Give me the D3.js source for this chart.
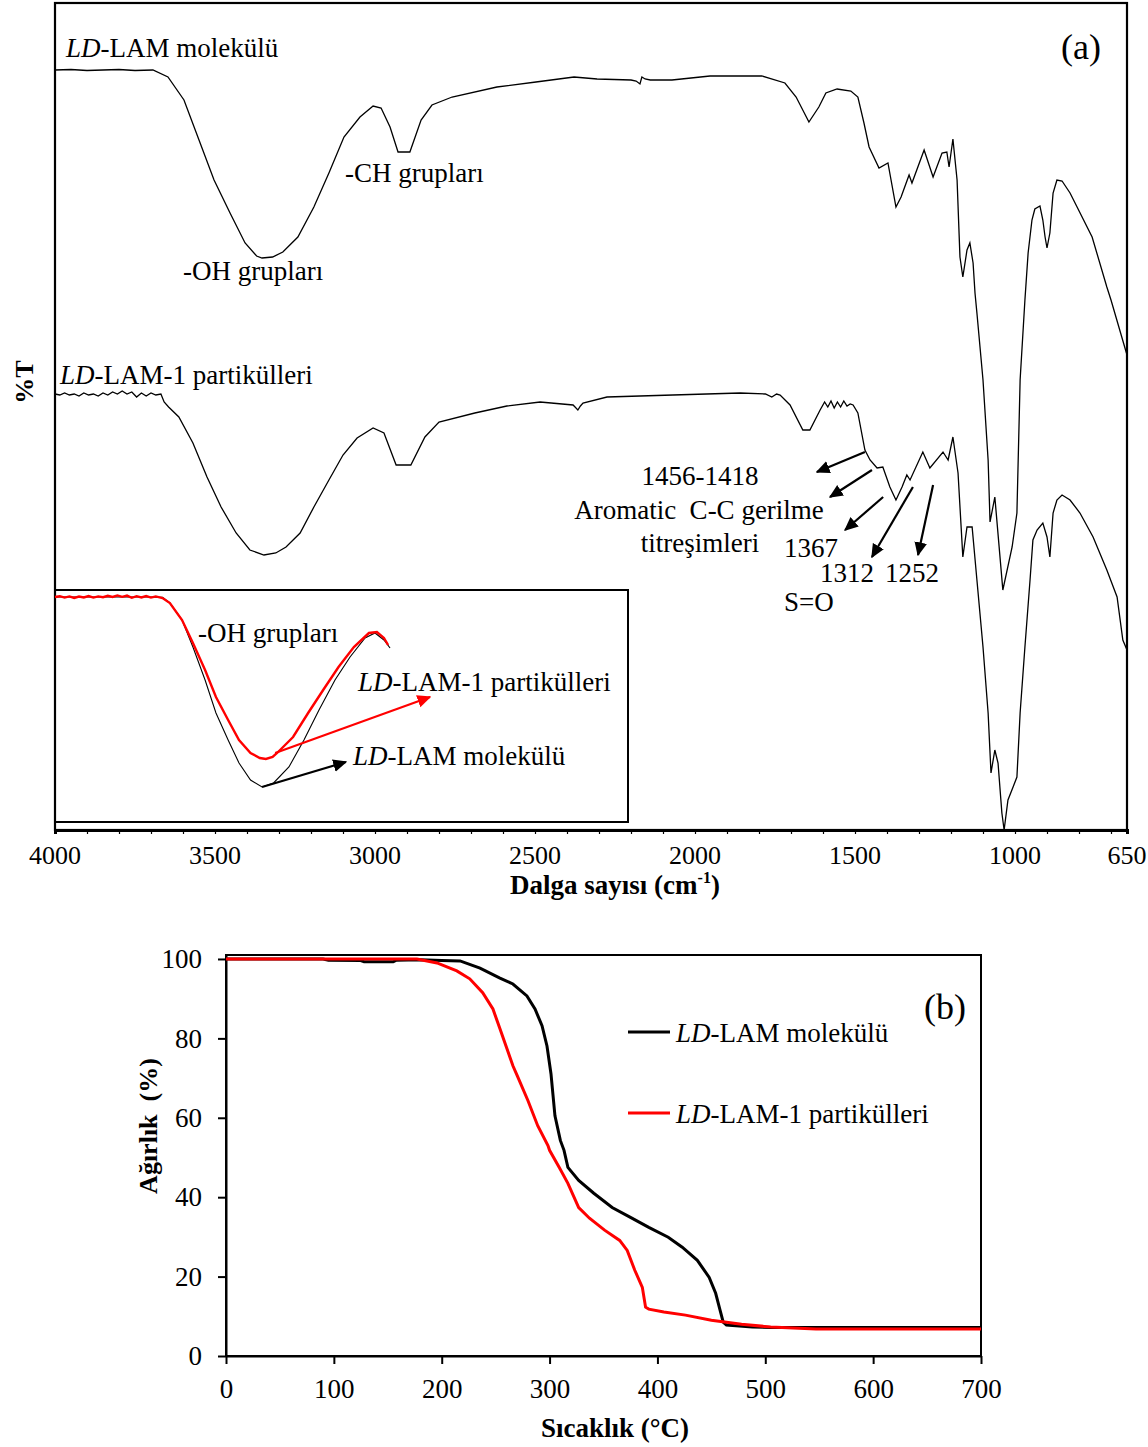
<!DOCTYPE html>
<html><head><meta charset="utf-8">
<script src="https://cdn.jsdelivr.net/npm/d3@7"></script>
<style>
body{margin:0;background:#fff}
svg{display:block}
text{font-family:"Liberation Serif","Times New Roman",serif;fill:#000}
</style>
</head><body>
<svg id="chart" width="1148" height="1447"></svg>
<script>
// ---------- DATA ----------
// FTIR (a): [wavenumber cm-1, %T (offset, arbitrary units)]
const ldlamSpectrum = [[4000,76.0],[3950,76.05],[3900,75.95],[3850,76.0],[3800,76.05],[3750,75.95],[3694,76.0],[3647,75.3],[3597,73.0],[3550,69.0],[3503,65.0],[3453,61.7],[3406,58.7],[3370,57.4],[3353,57.2],[3320,57.3],[3288,57.8],[3241,59.3],[3191,62.3],[3144,65.7],[3097,69.3],[3047,71.3],[3006,72.4],[2981,72.2],[2953,70.3],[2928,67.8],[2891,67.8],[2856,71.0],[2822,72.5],[2759,73.3],[2619,74.3],[2497,74.8],[2378,75.3],[2306,75.1],[2200,75.0],[2184,74.9],[2172,74.6],[2166,75.3],[2156,75.1],[2140,75.0],[2072,75.0],[1953,75.4],[1791,75.4],[1719,74.7],[1684,73.3],[1644,70.8],[1613,72.3],[1591,73.7],[1556,74.1],[1513,73.9],[1491,73.3],[1472,70.7],[1456,68.3],[1425,66.2],[1397,66.7],[1372,62.3],[1356,63.3],[1331,65.5],[1322,64.7],[1284,68.0],[1256,65.3],[1228,67.7],[1213,67.8],[1206,66.3],[1194,69.1],[1181,65.0],[1172,57.3],[1163,55.3],[1150,58.0],[1141,58.7],[1131,56.7],[1125,53.7],[1119,51.7],[1100,45.0],[1084,37.0],[1078,30.8],[1063,33.3],[1038,24.0],[1009,28.3],[994,31.7],[984,45.0],[969,53.0],[959,57.7],[947,61.0],[938,62.1],[922,62.4],[913,61.0],[906,59.3],[900,58.2],[891,59.7],[881,63.7],[869,65.0],[853,64.9],[828,63.7],[806,62.3],[759,59.3],[713,54.3],[700,53.0],[650,47.5]];
const ldlam1Spectrum = [[4000,43.6],[3985,43.5],[3970,43.7],[3955,43.5],[3940,43.6],[3925,43.4],[3910,43.7],[3895,43.5],[3880,43.6],[3865,43.4],[3850,43.7],[3835,43.5],[3820,43.8],[3805,43.6],[3790,43.9],[3775,43.6],[3760,43.8],[3745,43.3],[3730,43.7],[3715,43.4],[3700,43.7],[3685,43.5],[3669,43.6],[3659,42.8],[3645,42.3],[3613,41.3],[3569,38.7],[3525,35.3],[3481,32.3],[3434,29.7],[3391,28.0],[3347,27.5],[3310,27.7],[3278,28.3],[3234,29.7],[3191,32.3],[3144,35.0],[3100,37.5],[3056,39.2],[3006,40.2],[2972,39.7],[2934,36.5],[2888,36.5],[2844,39.3],[2800,40.8],[2688,41.7],[2588,42.4],[2484,42.8],[2381,42.5],[2366,42.0],[2358,42.4],[2350,42.7],[2275,43.3],[2069,43.5],[1859,43.7],[1780,43.6],[1760,43.3],[1745,43.6],[1734,43.5],[1703,42.5],[1663,40.0],[1641,40.0],[1609,42.0],[1595,42.8],[1585,42.3],[1575,42.9],[1565,42.2],[1555,42.8],[1545,42.3],[1535,42.9],[1525,42.4],[1515,42.6],[1506,42.5],[1491,41.7],[1469,38.0],[1453,37.0],[1431,36.2],[1413,36.3],[1391,34.3],[1372,33.0],[1353,34.3],[1338,35.5],[1328,35.0],[1288,37.8],[1266,36.2],[1225,37.8],[1209,37.0],[1194,39.3],[1178,35.7],[1163,27.3],[1150,30.3],[1134,30.3],[1119,25.0],[1100,18.3],[1084,11.7],[1075,5.7],[1063,8.0],[1053,6.7],[1041,1.7],[1034,0.0],[1022,3.0],[1006,4.3],[994,5.3],[984,11.7],[969,18.3],[953,25.0],[944,29.0],[931,30.0],[913,30.7],[900,29.3],[891,27.3],[881,31.7],[869,33.0],[853,33.5],[828,33.0],[797,31.7],[756,29.3],[713,26.0],[681,23.3],[663,19.0],[650,18.0]];
// Inset: OH band region, normalised %T
const insetLdlam1 = [[4000,112.5],[3985,112.9],[3970,112.2],[3955,112.8],[3940,112.0],[3925,112.7],[3910,112.3],[3895,113.0],[3880,112.2],[3865,112.8],[3850,112.4],[3835,113.1],[3820,112.5],[3805,113.3],[3790,112.6],[3775,113.2],[3760,112.1],[3745,112.9],[3730,112.3],[3715,113.0],[3700,112.2],[3685,112.8],[3664,112.0],[3641,109.5],[3603,101],[3569,89.5],[3531,76],[3497,62.5],[3459,51],[3425,41],[3389,34.5],[3360,32],[3341,31.5],[3320,32.5],[3306,34.5],[3256,42.5],[3209,54.5],[3162,66],[3114,77.5],[3066,87.5],[3019,94.5],[2994,95],[2972,92],[2959,88.5]];
const insetLdlam = [[4000,112.5],[3700,112.5],[3664,112.3],[3641,109.5],[3603,101],[3569,87.5],[3531,71],[3497,54.5],[3459,41],[3425,29.5],[3389,21],[3353,17.5],[3317,19.5],[3269,27.5],[3222,41],[3175,56],[3125,71],[3078,82.5],[3031,92],[3000,94.5],[2972,91],[2953,87]];
const ftirTickLabels = [4000,3500,3000,2500,2000,1500,1000,650];
// arrows: [fromWn, fromT, toWn, toT]
const ftirArrows = [[1469,37.8,1619,35.8],[1447,36.0,1578,33.3],[1412,33.3,1531,30.0],[1319,34.3,1447,27.3],[1256,34.5,1303,27.5]];
const insetArrows = [[3312,34.5,2828,62.5,"#ff0000"],[3353,17.5,3091,30,"#000000"]];

// TGA (b): [temperature °C, weight %]
const tgaLdlam = [[0,100],[90,100],[95,99.7],[125,99.6],[128,99.3],[155,99.3],[158,99.7],[180,99.8],[200,99.6],[217,99.5],[235.5,97.7],[254,95.2],[266,93.7],[279,90.7],[286.5,87.4],[293,83.2],[297.6,78.1],[301.3,71.1],[305,60.5],[310,54.3],[313.4,51.8],[317,47.5],[327,44.2],[341,41.0],[358,37.4],[375,34.9],[392,32.4],[410,29.9],[423,27.4],[437,24.1],[448,19.8],[454,15.8],[458,11.6],[461,8.5],[464,7.8],[488,7.3],[505,7.2],[700,7.2]];
const tgaLdlam1 = [[0,100],[177,100],[195.6,99.0],[214,97.0],[226,95.0],[238,91.5],[247.5,87.4],[254,82.4],[260.5,77.4],[266,73.1],[270,70.6],[280,64.3],[289,58],[298.5,53],[300,51.8],[309,47.5],[317,43.5],[327,37.4],[337,34.7],[351,31.7],[365,29.1],[372,26.6],[379,21.6],[386,17.3],[389,12.3],[392,11.8],[406,11.1],[426,10.3],[450,9.0],[478,8.0],[505,7.3],[547,6.8],[700,6.8]];
const tgaXTicks = [0,100,200,300,400,500,600,700];
const tgaYTicks = [0,20,40,60,80,100];

// ---------- DRAW ----------
const svg = d3.select("#chart");
const F = '"Liberation Serif","Times New Roman",serif';
const FS = 27;

const defs = svg.append("defs");
function marker(id, color){
  defs.append("marker").attr("id", id).attr("viewBox","0 0 10 10").attr("refX",9).attr("refY",5)
    .attr("markerWidth",14).attr("markerHeight",14).attr("markerUnits","userSpaceOnUse").attr("orient","auto")
    .append("path").attr("d","M0,0.5 L10,5 L0,9.5 Z").attr("fill", color);
}
marker("ah-black","#000"); marker("ah-red","#ff0000");

function richText(g, x, y, parts, size, anchor){
  const t = g.append("text").attr("x",x).attr("y",y).attr("font-size",size).attr("text-anchor",anchor||"start").attr("xml:space","preserve");
  parts.forEach(p=>{ const s=t.append("tspan").text(p[0]); if(p[1]) s.attr("font-style","italic"); });
  return t;
}

// ----- Panel (a) -----
const xA = d3.scaleLinear().domain([4000,650]).range([55,1127]);
const yA = d3.scaleLinear().domain([0,82.7]).range([830,3]);
const yIn = d3.scaleLinear().domain([0,116]).range([822,590]);
const gA = svg.append("g");

const lineA = d3.line().x(d=>xA(d[0])).y(d=>yA(d[1]));
gA.append("path").datum(ldlamSpectrum).attr("d",lineA).attr("fill","none").attr("stroke","#000").attr("stroke-width",1.3);
gA.append("path").datum(ldlam1Spectrum).attr("d",lineA).attr("fill","none").attr("stroke","#000").attr("stroke-width",1.3);

// frame
gA.append("rect").attr("x",55).attr("y",3).attr("width",1072).attr("height",827).attr("fill","none").attr("stroke","#000").attr("stroke-width",2.2);

// bottom axis with minor ticks every 100
const minorTicks = d3.range(4000, 649, -100).concat([650]);
const axA = gA.append("g").attr("transform","translate(0,830)")
  .call(d3.axisBottom(xA).tickValues(minorTicks).tickSize(4).tickFormat(""));
axA.select(".domain").attr("stroke-width",3);
axA.selectAll(".tick line").attr("stroke-width",1.2);
gA.append("g").selectAll("text").data(ftirTickLabels).join("text")
  .attr("x",d=>xA(d)).attr("y",864).attr("text-anchor","middle")
  .attr("font-size",26).text(d=>d);
// axis titles
const xt = gA.append("text").attr("x",615).attr("y",894).attr("text-anchor","middle").attr("font-size",27).attr("font-weight","bold");
xt.append("tspan").text("Dalga sayısı (cm");
xt.append("tspan").text("-1").attr("font-size",16).attr("dy",-11);
xt.append("tspan").text(")").attr("dy",11);
gA.append("text").attr("transform","translate(33,382) rotate(-90)").attr("text-anchor","middle").attr("font-size",26).attr("font-weight","bold").text("%T");

// labels
gA.append("text").attr("x",1101).attr("y",59).attr("text-anchor","end").attr("font-size",36).text("(a)");
richText(gA,66,57,[["LD",1],["-LAM molekülü"]],FS);
richText(gA,60,384,[["LD",1],["-LAM-1 partikülleri"]],FS);
gA.append("text").attr("x",345).attr("y",182).attr("font-size",FS).text("-CH grupları");
gA.append("text").attr("x",183).attr("y",280).attr("font-size",FS).text("-OH grupları");
gA.append("text").attr("x",700).attr("y",485).attr("text-anchor","middle").attr("font-size",FS).text("1456-1418");
gA.append("text").attr("x",699).attr("y",519).attr("text-anchor","middle").attr("font-size",FS).attr("xml:space","preserve").text("Aromatic  C-C gerilme");
gA.append("text").attr("x",700).attr("y",552).attr("text-anchor","middle").attr("font-size",FS).text("titreşimleri");
gA.append("text").attr("x",784).attr("y",557).attr("font-size",FS).text("1367");
gA.append("text").attr("x",820).attr("y",582).attr("font-size",FS).text("1312");
gA.append("text").attr("x",885).attr("y",582).attr("font-size",FS).text("1252");
gA.append("text").attr("x",784).attr("y",611).attr("font-size",FS).text("S=O");

gA.selectAll("line.arr").data(ftirArrows).join("line").attr("class","arr")
  .attr("x1",d=>xA(d[0])).attr("y1",d=>yA(d[1])).attr("x2",d=>xA(d[2])).attr("y2",d=>yA(d[3]))
  .attr("stroke","#000").attr("stroke-width",2.2).attr("marker-end","url(#ah-black)");

// inset
const gI = svg.append("g");
const lineI = d3.line().x(d=>xA(d[0])).y(d=>yIn(d[1]));
gI.append("rect").attr("x",55).attr("y",590).attr("width",573).attr("height",232).attr("fill","none").attr("stroke","#000").attr("stroke-width",2);
gI.append("path").datum(insetLdlam).attr("d",lineI).attr("fill","none").attr("stroke","#000").attr("stroke-width",1.1);
gI.append("path").datum(insetLdlam1).attr("d",lineI).attr("fill","none").attr("stroke","#ff0000").attr("stroke-width",2.4);
gI.selectAll("line.arr").data(insetArrows).join("line").attr("class","arr")
  .attr("x1",d=>xA(d[0])).attr("y1",d=>yIn(d[1])).attr("x2",d=>xA(d[2])).attr("y2",d=>yIn(d[3]))
  .attr("stroke",d=>d[4]).attr("stroke-width",2.2).attr("marker-end",d=>d[4]==="#000000"?"url(#ah-black)":"url(#ah-red)");
gI.append("text").attr("x",198).attr("y",642).attr("font-size",FS).text("-OH grupları");
richText(gI,358,691,[["LD",1],["-LAM-1 partikülleri"]],FS);
richText(gI,353,765,[["LD",1],["-LAM molekülü"]],FS);

// ----- Panel (b) -----
const xB = d3.scaleLinear().domain([0,700]).range([226,981]);
const yB = d3.scaleLinear().domain([0,101]).range([1356,955]);
const gB = svg.append("g");
gB.append("rect").attr("x",226).attr("y",955).attr("width",755).attr("height",401).attr("fill","none").attr("stroke","#000").attr("stroke-width",2);
const axBx = gB.append("g").attr("transform","translate(0,1356)").call(d3.axisBottom(xB).tickValues(tgaXTicks).tickSize(8).tickSizeOuter(0).tickPadding(8));
const axBy = gB.append("g").attr("transform","translate(226,0)").call(d3.axisLeft(yB).tickValues(tgaYTicks).tickSize(8).tickSizeOuter(0).tickPadding(16));
[axBx,axBy].forEach(a=>{
  a.select(".domain").attr("stroke-width",2);
  a.selectAll(".tick line").attr("stroke-width",2);
  a.selectAll(".tick text").attr("font-size",27).attr("font-family",F).attr("fill","#000");
});
axBx.selectAll(".tick text").attr("dy","0.95em");
const lineB = d3.line().x(d=>xB(d[0])).y(d=>yB(d[1]));
gB.append("path").datum(tgaLdlam).attr("d",lineB).attr("fill","none").attr("stroke","#000").attr("stroke-width",3);
gB.append("path").datum(tgaLdlam1).attr("d",lineB).attr("fill","none").attr("stroke","#ff0000").attr("stroke-width",3);

gB.append("text").attr("x",966).attr("y",1019).attr("text-anchor","end").attr("font-size",36).text("(b)");
gB.append("line").attr("x1",628).attr("x2",670).attr("y1",1032).attr("y2",1032).attr("stroke","#000").attr("stroke-width",3);
gB.append("line").attr("x1",628).attr("x2",670).attr("y1",1113).attr("y2",1113).attr("stroke","#ff0000").attr("stroke-width",3);
richText(gB,676,1042,[["LD",1],["-LAM molekülü"]],FS);
richText(gB,676,1123,[["LD",1],["-LAM-1 partikülleri"]],FS);
gB.append("text").attr("transform","translate(157,1126) rotate(-90)").attr("text-anchor","middle").attr("font-size",26).attr("font-weight","bold").attr("xml:space","preserve").text("Ağırlık  (%)");
gB.append("text").attr("x",615).attr("y",1437).attr("text-anchor","middle").attr("font-size",27).attr("font-weight","bold").text("Sıcaklık (°C)");
</script>
</body></html>
